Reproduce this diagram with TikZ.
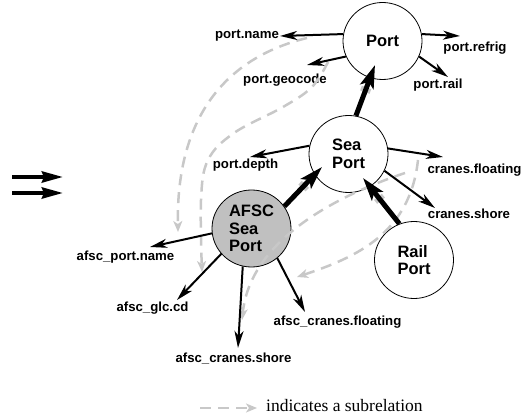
\documentclass[tikz,border=0pt]{standalone}
\usepackage{fontspec}
\setmainfont{Liberation Serif}
\setsansfont{Liberation Sans}
\usetikzlibrary{arrows.meta,shapes.geometric,calc}

\definecolor{subgray}{RGB}{200,200,200}
\definecolor{nodegray}{RGB}{192,192,192}

\begin{document}
\begin{tikzpicture}[x=1pt,y=1pt,
  concept/.style={ellipse, draw, line width=0.8pt, minimum width=79pt,
    minimum height=77pt, inner sep=0pt, align=left,
    font=\sffamily\bfseries\fontsize{16.5}{17.5}\selectfont},
  attrlabel/.style={font=\sffamily\bfseries\fontsize{13.2}{15}\selectfont, inner sep=1pt},
  attr/.style={draw, line width=2pt, -{Stealth[length=17pt,width=9pt,inset=5pt]}},
  isa/.style={draw, line width=5pt, -{Stealth[length=23pt,width=14pt,inset=5pt]}},
  isastub/.style={draw=subgray, line width=10pt},
  sub/.style={draw=subgray, line width=2.5pt, dash pattern=on 11pt off 7pt,
    -{Stealth[length=11pt,width=9pt,inset=3pt,color=subgray]}},
  bigarrow/.style={draw, line width=4pt, -{Stealth[length=21pt,width=11pt,inset=2pt]}},
]
\useasboundingbox (0,0) rectangle (522,418);

% concepts
\node[concept] (port) at (382.5,377) {Port};
\node[concept] (sea) at (348.5,264) {Sea\\Port};
\node[concept, fill=nodegray] (afsc) at (251.5,189.5) {AFSC\\Sea\\Port};
\node[concept] (rail) at (414,158) {Rail\\Port};

% attributes
\node[attrlabel] (pname) at (247,382) {port.name};
\node[attrlabel] (pgeo) at (285,338) {port.geocode};
\node[attrlabel] (prefrig) at (475,370) {port.refrig};
\node[attrlabel] (prail) at (438,333) {port.rail};
\node[attrlabel] (pdepth) at (245.5,253) {port.depth};
\node[attrlabel] (cfloat) at (474.5,248) {cranes.floating};
\node[attrlabel] (cshore) at (469,204) {cranes.shore};
\node[attrlabel] (apname) at (125.5,161) {afsc\_port.name};
\node[attrlabel] (aglc) at (152.5,110) {afsc\_glc.cd};
\node[attrlabel] (acfloat) at (337.5,96) {afsc\_cranes.floating};
\node[attrlabel] (acshore) at (233.5,59) {afsc\_cranes.shore};

% end points of the attribute arrows
\coordinate (e1) at (pname.east);
\coordinate (e2) at ([shift={(22,15)}]pgeo.center);
\coordinate (e3) at ([shift={(-15,12)}]prefrig.center);
\coordinate (e4) at ([shift={(10,8)}]prail.center);
\coordinate (e5) at ([shift={(4.5,8)}]pdepth.center);
\coordinate (e6) at ([shift={(-31.5,13)}]cfloat.center);
\coordinate (e7) at ([shift={(-34,6)}]cshore.center);
\coordinate (e8) at ([shift={(24.5,10)}]apname.center);
\coordinate (e9) at ([shift={(24.5,8)}]aglc.center);
\coordinate (e10) at ([shift={(4.5,11)}]acshore.center);
\coordinate (e11) at ([shift={(-32.5,10)}]acfloat.center);

% specialisation arrows (start and tip)
\coordinate (t1s) at (sea.79);
\coordinate (t1e) at ([shift={(-7.5,-24)}]port.center);
\coordinate (t2s) at (afsc.34);
\coordinate (t2e) at ([shift={(-26.5,-13)}]sea.center);
\coordinate (t3s) at (rail.112);
\coordinate (t3e) at ([shift={(14.5,-24)}]sea.center);

% subrelations between attributes
\draw[sub] (307,380) .. controls (225,360) and (176,300) .. (178,186);
\draw[sub] plot[smooth, tension=0.6] coordinates
  {(328,356) (312,331) (283,311) (234,285) (208,258) (201,218) (202,146)};
\draw[sub] (418,258) .. controls (410,185) and (357,161) .. (297,141);
\draw[sub] (405,245) .. controls (330,220) and (250,175) .. (242,98);

% grey collars just below the specialisation arrow heads
\foreach \s/\e in {t1s/t1e, t2s/t2e, t3s/t3e}
  \draw[isastub] ($(\e)!24pt!(\s)$) -- ($(\e)!29pt!(\s)$);

% attribute arrows
\draw[attr] (port.170) -- (e1);
\draw[attr] (port.203) -- (e2);
\draw[attr] (port.10) -- (e3);
\draw[attr] (port.337) -- (e4);
\draw[attr] (sea.168) -- (e5);
\draw[attr] (sea.8) -- (e6);
\draw[attr] (sea.335) -- (e7);
\draw[attr] (afsc.187) -- (e8);
\draw[attr] (afsc.220) -- (e9);
\draw[attr] (afsc.257) -- (e10);
\draw[attr] (afsc.311) -- (e11);

% specialisation arrows
\draw[isa] (t1s) -- (t1e);
\draw[isa] (t2s) -- (t2e);
\draw[isa] (t3s) -- (t3e);

% double arrow on the left
\coordinate (da1) at (12,241);
\coordinate (db1) at (63,241);
\coordinate (da2) at (12,225);
\coordinate (db2) at (63,225);
\draw[bigarrow] (da1) -- (db1);
\draw[bigarrow] (da2) -- (db2);

% legend
\coordinate (lega) at (200,10);
\coordinate (legb) at (257,10);
\draw[sub] (lega) -- (legb);
\node[anchor=base west, inner sep=0pt, font=\fontsize{17.5}{20}\selectfont] (legtext) at (266,7) {indicates a subrelation};
\end{tikzpicture}
\end{document}
